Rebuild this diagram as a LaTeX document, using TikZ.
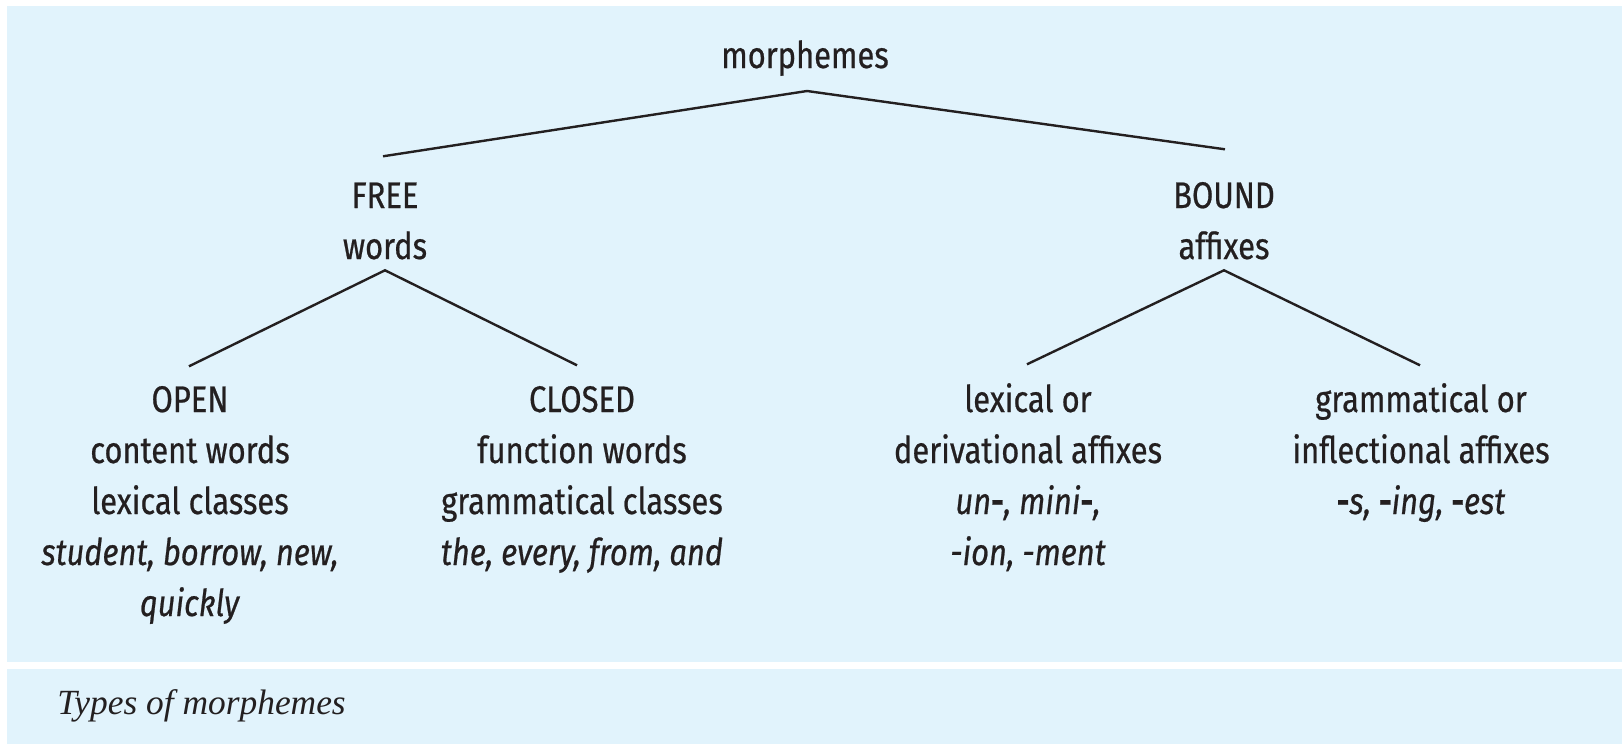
\documentclass[tikz,border=0pt]{standalone}
\usepackage{fontspec}
\setmainfont{Fira Sans}[FakeStretch=0.835,FakeBold=0.6]
\newfontfamily\captionserif{Liberation Serif}
\usetikzlibrary{calc}
\definecolor{panelblue}{RGB}{225,243,252}
\definecolor{ink}{RGB}{35,31,32}
\newcommand{\hy}{\textup{\textbf{-}}}
\begin{document}
\begin{tikzpicture}[x=0.5pt,y=-0.5pt,
  treelabel/.style={anchor=north, inner sep=0pt, outer sep=0pt, align=center,
    text=ink, font=\fontsize{18.5}{25.5}\selectfont},
  branch/.style={draw=ink, line width=1.2pt}]
\useasboundingbox (0,0) rectangle (1622,744);
\fill[white] (0,0) rectangle (1622,744);
% tree panel and caption panel
\fill[panelblue] (7,6) rectangle (1622,662);
\fill[panelblue] (7,669) rectangle (1622,744);

% labels
\node[treelabel] (m) at (805,32.3) {\strut morphemes};
\node[treelabel] (free) at (385,172.3) {\strut FREE\\\strut words};
\node[treelabel] (bound) at (1224,172.3) {\strut BOUND\\\strut affixes};
\node[treelabel] (open) at (190,376.3) {\strut OPEN\\\strut content words\\\strut lexical classes\\
  \strut\textit{student, borrow, new,}\\\strut\textit{quickly}};
\node[treelabel] (closed) at (582,376.3) {\strut CLOSED\\\strut function words\\\strut grammatical classes\\
  \strut\textit{the, every, from, and}};
\node[treelabel] (lex) at (1028,376.3) {\strut lexical or\\\strut derivational affixes\\
  \strut\textit{un}\hy\textit{, mini}\hy\textit{,}\\\strut\textit{-ion, -ment}};
\node[treelabel] (gram) at (1421,376.3) {\strut grammatical or\\\strut inflectional affixes\\
  \strut\hy\textit{s, }\hy\textit{ing, }\hy\textit{est}};

% branches
\coordinate (mtop) at ($(m.south)+(2,7.7)$);
\draw[branch] (mtop) -- ($(free.north)+(-2,-16)$);
\draw[branch] (mtop) -- ($(bound.north)+(1,-23)$);
\draw[branch] ($(open.north)+(-1,-10)$) -- ($(free.south)+(0,-4)$) -- ($(closed.north)+(-5,-11)$);
\draw[branch] ($(lex.north)+(-1,-12)$) -- ($(bound.south)+(0,-4)$) -- ($(gram.north)+(-1,-11)$);

% caption
\node[anchor=base west, inner sep=0pt, text=ink,
  font=\captionserif\itshape\fontsize{17.7}{22}\selectfont] (caption) at (57,714) {Types of morphemes};
\end{tikzpicture}
\end{document}
